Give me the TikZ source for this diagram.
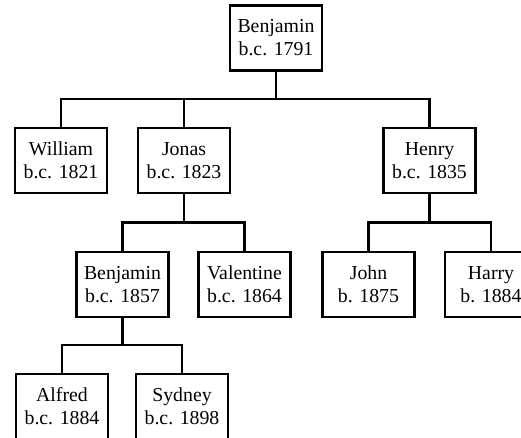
\documentclass[tikz,border=0pt]{standalone}
\usepackage{fontspec}
\setmainfont{Liberation Serif}
\begin{document}
\begin{tikzpicture}[x=1pt,y=-1pt,
  person/.style={draw, line width=2.6pt, minimum width=92pt, minimum height=65pt,
    inner sep=0pt, align=center, font=\fontsize{19.8}{23}\selectfont},
  link/.style={line width=2.6pt}]
\useasboundingbox (0,0) rectangle (521,437);
\clip (0,0) rectangle (521,437);
\node[person] (benj) at (276,38) {Benjamin\\b.c. 1791};
\node[person] (william) at (61,160.5) {William\\b.c. 1821};
\node[person] (jonas) at (184,160.5) {Jonas\\b.c. 1823};
\node[person] (henry) at (429.5,160.5) {Henry\\b.c. 1835};
\node[person] (benj2) at (122.5,284.5) {Benjamin\\b.c. 1857};
\node[person] (valentine) at (244.5,284.5) {Valentine\\b.c. 1864};
\node[person] (john) at (368.5,284.5) {John\\b. 1875};
\node[person] (harry) at (491,284.5) {Harry\\b. 1884};
\node[person] (alfred) at (62,406.5) {Alfred\\b.c. 1884};
\node[person] (sydney) at (182,406.5) {Sydney\\b.c. 1898};
\coordinate (busA) at (0,99);
\coordinate (busB) at (0,222.5);
\coordinate (busC) at (0,345);
\draw[link] (benj.south) -- (benj.south |- busA);
\draw[link] (william.north) |- (busA -| henry.north) -- (henry.north);
\draw[link] (jonas.north) -- (jonas.north |- busA);
\draw[link] (jonas.south) -- (jonas.south |- busB);
\draw[link] (benj2.north) |- (busB -| valentine.north) -- (valentine.north);
\draw[link] (henry.south) -- (henry.south |- busB);
\draw[link] (john.north) |- (busB -| harry.north) -- (harry.north);
\draw[link] (benj2.south) -- (benj2.south |- busC);
\draw[link] (alfred.north) |- (busC -| sydney.north) -- (sydney.north);
\end{tikzpicture}
\end{document}
